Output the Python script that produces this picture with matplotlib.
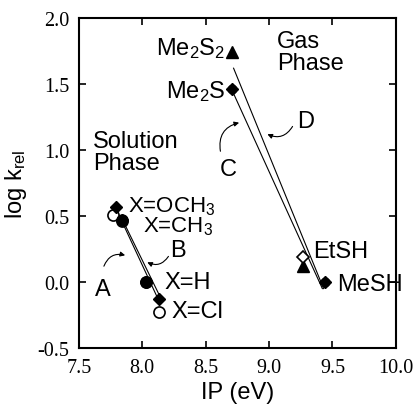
import matplotlib.pyplot as plt

plt.rcParams['font.family'] = 'Liberation Sans'
plt.rcParams['mathtext.fontset'] = 'custom'
plt.rcParams['mathtext.rm'] = 'Liberation Sans'
plt.rcParams['mathtext.default'] = 'regular'
plt.rcParams['axes.unicode_minus'] = False

# solution phase (X-substituted), IP in eV vs log k_rel
sol_diam_x = [7.79, 7.84, 8.03, 8.13]
sol_diam_y = [0.57, 0.47, 0.0, -0.13]
sol_open_x = [7.77, 7.84, 8.03, 8.13]
sol_open_y = [0.51, 0.46, 0.0, -0.23]
sol_fill_x = [7.84, 8.03]
sol_fill_y = [0.47, 0.0]

# gas phase
gas_diam_x = [8.71, 9.44]
gas_diam_y = [1.46, 0.0]
gas_open_x = [9.27]
gas_open_y = [0.19]
gas_tri_x = [8.71, 9.27]
gas_tri_y = [1.74, 0.12]

# fit lines (end points)
line_A_x = [7.82, 8.13]
line_A_y = [0.50, -0.14]
line_B_x = [7.84, 8.15]
line_B_y = [0.48, -0.13]
line_C_x = [8.70, 9.42]
line_C_y = [1.47, -0.05]
line_D_x = [8.72, 9.43]
line_D_y = [1.62, -0.05]

fig = plt.figure(figsize=(4.15, 4.14), dpi=100)
ax = fig.add_axes([0.190, 0.157, 0.764, 0.797])

for lx, ly in [(line_A_x, line_A_y), (line_B_x, line_B_y),
               (line_C_x, line_C_y), (line_D_x, line_D_y)]:
    ax.plot(lx, ly, color='black', lw=0.8, zorder=2)

ax.plot(sol_open_x, sol_open_y, 'o', mfc='white', mec='black', mew=1.2, ms=8, zorder=3)
ax.plot(sol_fill_x, sol_fill_y, 'o', color='black', ms=8, zorder=4)
ax.plot(sol_diam_x, sol_diam_y, 'D', color='black', ms=6, zorder=5)
ax.plot(gas_tri_x, gas_tri_y, '^', color='black', ms=8, zorder=3)
ax.plot(gas_diam_x, gas_diam_y, 'D', color='black', ms=6, zorder=4)
ax.plot(gas_diam_x, gas_diam_y, 'o', color='black', ms=6, zorder=4)
ax.plot(gas_open_x, gas_open_y, 'D', mfc='white', mec='black', mew=1.2, ms=6, zorder=5)

fs = 17
ax.text(8.655, 1.78, 'Me$_2$S$_2$', ha='right', va='center', fontsize=fs)
ax.text(8.655, 1.447, 'Me$_2$S', ha='right', va='center', fontsize=fs)
ax.text(9.06, 1.91, 'Gas\nPhase', ha='left', va='top', fontsize=fs, linespacing=1.0)
ax.text(7.61, 1.15, 'Solution\nPhase', ha='left', va='top', fontsize=fs, linespacing=1.0)
ax.text(7.886, 0.58, 'X=OCH$_3$', ha='left', va='center', fontsize=16)
ax.text(8.005, 0.425, 'X=CH$_3$', ha='left', va='center', fontsize=16)
ax.text(8.178, 0.0, 'X=H', ha='left', va='center', fontsize=fs)
ax.text(8.233, -0.22, 'X=Cl', ha='left', va='center', fontsize=fs)
ax.text(9.345, 0.235, 'EtSH', ha='left', va='center', fontsize=fs)
ax.text(9.535, -0.015, 'MeSH', ha='left', va='center', fontsize=fs)
ax.text(8.28, 0.24, 'B', ha='center', va='center', fontsize=fs)
ax.text(7.69, -0.05, 'A', ha='center', va='center', fontsize=fs)
ax.text(8.675, 0.856, 'C', ha='center', va='center', fontsize=fs)
ax.text(9.29, 1.22, 'D', ha='center', va='center', fontsize=fs)

arrow = dict(arrowstyle='-|>', color='black', lw=0.8, mutation_scale=7)
ax.annotate('', xy=(7.886, 0.197), xytext=(7.69, 0.10),
            arrowprops=dict(arrow, connectionstyle='arc3,rad=-0.5'))
ax.annotate('', xy=(8.02, 0.159), xytext=(8.218, 0.212),
            arrowprops=dict(arrow, connectionstyle='arc3,rad=-0.5'))
ax.annotate('', xy=(8.785, 1.212), xytext=(8.62, 0.97),
            arrowprops=dict(arrow, connectionstyle='arc3,rad=-0.5'))
ax.annotate('', xy=(8.967, 1.129), xytext=(9.196, 1.197),
            arrowprops=dict(arrow, connectionstyle='arc3,rad=-0.5'))

ax.set_xlim(7.5, 10.0)
ax.set_ylim(-0.5, 2.0)
ax.set_xticks([7.5, 8.0, 8.5, 9.0, 9.5, 10.0])
ax.set_yticks([-0.5, 0.0, 0.5, 1.0, 1.5, 2.0])
ax.tick_params(direction='in', length=5, width=1.2, top=True, right=True,
               labelsize=14.5, pad=7)
for lab in ax.get_xticklabels() + ax.get_yticklabels():
    lab.set_family('Liberation Serif')
for sp in ax.spines.values():
    sp.set_linewidth(1.5)

ax.set_xlabel('IP (eV)', fontsize=17, labelpad=3)
ax.set_ylabel('log k$_{rel}$', fontsize=17, labelpad=6)

fig.savefig('out.png', dpi=100)
